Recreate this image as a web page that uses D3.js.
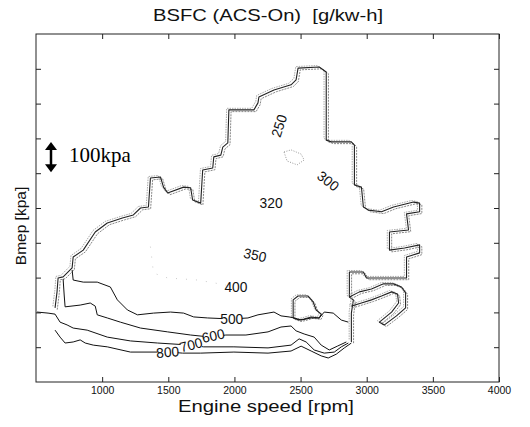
<!DOCTYPE html>
<html>
<head>
<meta charset="utf-8">
<script src="https://cdn.jsdelivr.net/npm/d3@7"></script>
<style>
  body { margin: 0; background: #fff; }
  text { font-family: "Liberation Sans", Arial, Helvetica, sans-serif; }
</style>
</head>
<body>
<div id="chart"></div>
<script>
// BSFC map, contour levels in g/kW-h over engine speed [rpm] and bmep [kPa]
var levels = [250, 300, 320, 350, 400, 500, 600, 700, 800];
var speedTicks = [1000, 1500, 2000, 2500, 3000, 3500, 4000];
var bmepTicks = [100, 200, 300, 400, 500, 600, 700, 800, 900];

// full-load edge, where all the levels pile up
var edge = [[644,213],[659,259],[667,299],[705,302],[773,328],[781,359],[857,379],[948,431],
  [1039,457],[1153,471],[1236,480],[1290,500],[1350,503],[1365,586],[1441,589],[1464,560],
  [1495,543],[1616,560],[1669,558],[1684,523],[1745,514],[1760,609],[1836,615],[1844,647],
  [1897,652],[1912,675],[1950,687],[1958,782],[2147,782],[2178,802],[2185,819],[2299,839],
  [2428,854],[2466,868],[2481,902],[2641,905],[2694,891],[2694,695],[2732,690],[2884,690],
  [2907,681],[2907,566],[2960,560],[2975,503],[3013,494],[3112,489],[3203,503],[3354,517],
  [3400,514],[3400,489],[3301,483],[3316,437],[3172,431],[3172,379],[3286,385],[3400,394],
  [3400,371],[3301,359],[3301,299],[2998,299],[2975,316],[2869,316],[2869,244],[2899,236],
  [2884,198],[2884,115]];

var c400 = [[1365,389],[1388,313],[1495,299],[1722,293],[1844,285],[2011,273]];
var c500 = [[773,322],[781,293],[857,287],[963,287],[1062,273],[1115,236],[1191,207],[1267,193],
  [1388,198],[1517,201],[1616,198],[1692,187],[1798,184],[1980,181],[2102,184],[2178,193],
  [2254,198],[2299,201],[2352,190],[2413,187],[2451,184],[2504,178],[2580,184],[2641,184],
  [2679,201],[2747,198],[2808,178],[2861,172]];
var c600 = [[705,296],[713,250],[720,216],[834,221],[910,227],[948,218],[963,193],[1039,184],
  [1138,172],[1290,155],[1495,144],[1669,135],[1821,129],[1935,135],[2087,135],[2254,144],
  [2352,158],[2428,161],[2466,147],[2527,138],[2603,129],[2656,106],[2717,92],[2778,103],[2846,115]];
var c700 = [[508,201],[591,198],[644,195],[682,172],[735,164],[781,155],[887,149],[1039,129],
  [1214,118],[1419,112],[1669,106],[1768,101],[1996,101],[2254,98],[2428,106],[2489,124],
  [2542,115],[2603,92],[2679,83],[2755,86],[2808,101],[2861,112]];
var c800 = [[644,149],[682,129],[720,112],[781,115],[834,121],[872,112],[933,106],[1039,101],
  [1214,86],[1419,86],[1502,86],[1608,83],[1745,83],[1996,86],[2254,83],[2428,89],[2504,103],
  [2580,89],[2656,75],[2709,69],[2770,80],[2831,98],[2884,112]];

// small closed pockets
var pocketTop = [[2375,661],[2428,667],[2504,655],[2527,638],[2474,624],[2398,635],[2375,661]];
var pocketLow = [[2444,184],[2444,236],[2481,247],[2557,247],[2595,230],[2618,207],[2656,195],
  [2641,184],[2580,187],[2527,181],[2489,178],[2444,184]];
var hook = [[2869,244],[2945,259],[3036,267],[3127,282],[3203,282],[3263,273],[3294,256],
  [3294,213],[3225,190],[3134,164],[3096,172],[3188,201],[3241,227],[3233,253],[3188,259],
  [3112,247],[3036,236],[2960,227],[2884,218]];

// inline contour labels: level, speed, bmep, angle
var labelAt = [
  [800, 1495, 86, -4],
  [700, 1672, 107, -15],
  [600, 1840, 133, -12],
  [500, 1980, 181, 0],
  [400, 2011, 273, 0],
  [350, 2155, 365, 12],
  [320, 2277, 514, 0],
  [300, 2709, 578, 38],
  [250, 2337, 736, -72]
];

var W = 530, H = 427;
var svg = d3.select("#chart").append("svg").attr("width", W).attr("height", H);

var x = d3.scaleLinear().domain([500, 4000]).range([36, 499]);
var y = d3.scaleLinear().domain([0, 1000]).range([382, 34]);

svg.append("clipPath").attr("id", "plotclip")
  .append("rect").attr("x", 36).attr("y", 34).attr("width", 463).attr("height", 348);

var line = d3.line().x(function(d) { return x(d[0]); }).y(function(d) { return y(d[1]); });

var plot = svg.append("g").attr("clip-path", "url(#plotclip)");

// crowded lines along the edge: one dark pass plus two grey echoes
function crowded(pts, spread) {
  plot.append("path").attr("d", line(pts))
    .attr("fill", "none").attr("stroke", "#aaa").attr("stroke-width", 1)
    .attr("stroke-dasharray", "1.5,1")
    .attr("transform", "translate(" + (-spread) + "," + (-spread * 0.7) + ")");
  plot.append("path").attr("d", line(pts))
    .attr("fill", "none").attr("stroke", "#888").attr("stroke-width", 1)
    .attr("stroke-dasharray", "2,1")
    .attr("transform", "translate(" + spread + "," + spread * 0.8 + ")");
  plot.append("path").attr("d", line(pts))
    .attr("fill", "none").attr("stroke", "#222").attr("stroke-width", 1.1)
    .attr("stroke-linejoin", "round");
}
crowded(edge, 2.2);
crowded(hook, 2);
crowded(pocketLow, 1.8);

plot.append("path").attr("d", line(pocketTop))
  .attr("fill", "none").attr("stroke", "#999").attr("stroke-width", 1)
  .attr("stroke-dasharray", "1,1.5");

plot.append("path").attr("d", line(c400))
  .attr("fill", "none").attr("stroke", "#ccc").attr("stroke-width", 1)
  .attr("stroke-dasharray", "1,9");

[c500, c600, c700, c800].forEach(function(c) {
  plot.append("path").attr("d", line(c))
    .attr("fill", "none").attr("stroke", "#111").attr("stroke-width", 1)
    .attr("stroke-linejoin", "round");
});

// labels sit on a white patch so the line looks broken under them
var lab = plot.selectAll(".clabel").data(labelAt).enter().append("g")
  .attr("class", "clabel")
  .attr("transform", function(d) {
    return "translate(" + x(d[1]) + "," + y(d[2]) + ") rotate(" + d[3] + ")";
  });
lab.append("rect").attr("fill", "#fff");
lab.append("text")
  .attr("text-anchor", "middle").attr("dy", "0.36em")
  .attr("textLength", 23).attr("lengthAdjust", "spacingAndGlyphs")
  .style("font-size", "14px").attr("fill", "#111")
  .text(function(d) { return levels[levels.indexOf(d[0])]; });
lab.each(function() {
  var g = d3.select(this);
  var b = g.select("text").node().getBBox();
  g.select("rect").attr("x", b.x + 1.5).attr("y", b.y + 3)
    .attr("width", b.width - 3).attr("height", b.height - 6);
});

// axes: ticks point inward on all four sides
var axB = d3.axisBottom(x).tickValues(speedTicks).tickFormat(d3.format("d"))
  .tickSizeInner(-5).tickSizeOuter(0).tickPadding(4.5);
var axT = d3.axisTop(x).tickValues(speedTicks).tickSizeInner(-5).tickSizeOuter(0).tickFormat("");
var axL = d3.axisLeft(y).tickValues(bmepTicks).tickSizeInner(-5).tickSizeOuter(0).tickFormat("");
var axR = d3.axisRight(y).tickValues(bmepTicks).tickSizeInner(-5).tickSizeOuter(0).tickFormat("");

var gB = svg.append("g").attr("transform", "translate(0,382)").call(axB);
svg.append("g").attr("transform", "translate(0,34)").call(axT);
svg.append("g").attr("transform", "translate(36,0)").call(axL);
svg.append("g").attr("transform", "translate(499,0)").call(axR);
svg.selectAll(".domain").remove();
svg.selectAll(".tick line").attr("stroke", "#222");
gB.selectAll("text").style("font-size", "10.5px").attr("fill", "#111");

svg.append("rect").attr("x", 36).attr("y", 34).attr("width", 463).attr("height", 348)
  .attr("fill", "none").attr("stroke", "#222").attr("stroke-width", 1);

svg.append("text").attr("x", 268).attr("y", 21).attr("text-anchor", "middle")
  .attr("textLength", 230).attr("lengthAdjust", "spacingAndGlyphs")
  .style("font-size", "17px").attr("fill", "#111").text("BSFC (ACS-On)\u00a0 [g/kw-h]");
svg.append("text").attr("x", 266).attr("y", 412).attr("text-anchor", "middle")
  .attr("textLength", 176).attr("lengthAdjust", "spacingAndGlyphs")
  .style("font-size", "16px").attr("fill", "#111").text("Engine speed [rpm]");
svg.append("text").attr("transform", "translate(26,226) rotate(-90)").attr("text-anchor", "middle")
  .style("font-size", "15.5px").attr("fill", "#111").text("Bmep [kpa]");

// 100 kPa scale marker
var ay0 = y(690), ay1 = y(603), ax = 51;
svg.append("line").attr("x1", ax).attr("x2", ax).attr("y1", ay0 + 6).attr("y2", ay1 - 6)
  .attr("stroke", "#000").attr("stroke-width", 2.5);
svg.append("path").attr("d", "M" + ax + "," + ay0 + " l-6,8 l12,0 z").attr("fill", "#000");
svg.append("path").attr("d", "M" + ax + "," + ay1 + " l-6,-8 l12,0 z").attr("fill", "#000");
svg.append("text").attr("x", 69).attr("y", 162)
  .style("font-family", "'Liberation Serif', 'Times New Roman', serif").style("font-size", "21px")
  .attr("fill", "#000").text("100kpa");
</script>
</body>
</html>
